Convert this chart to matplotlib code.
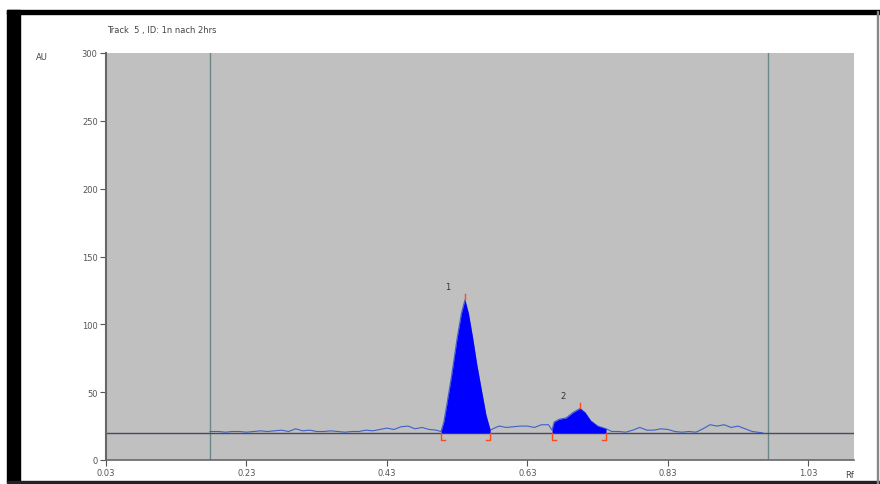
import matplotlib.pyplot as plt
from matplotlib.patches import Rectangle

# densitogram data (Rf, AU)
rf = [0.178, 0.19, 0.20, 0.21, 0.22, 0.23, 0.24, 0.25, 0.26, 0.27, 0.28, 0.29,
      0.30, 0.31, 0.32, 0.33, 0.34, 0.35, 0.36, 0.37, 0.38, 0.39, 0.40, 0.41,
      0.42, 0.43, 0.44, 0.45, 0.46, 0.47, 0.48, 0.49, 0.50,
      0.507, 0.511, 0.515, 0.522, 0.530, 0.536, 0.541, 0.546, 0.552, 0.558, 0.565, 0.571, 0.577,
      0.585, 0.59, 0.60, 0.61, 0.62, 0.63, 0.64, 0.65, 0.66,
      0.665, 0.668, 0.675, 0.685, 0.695, 0.705, 0.712, 0.720, 0.730, 0.742,
      0.75, 0.76, 0.77, 0.78, 0.79, 0.80, 0.81, 0.82, 0.83, 0.84, 0.85, 0.86,
      0.87, 0.88, 0.89, 0.90, 0.91, 0.92, 0.93, 0.94, 0.95, 0.965]
au = [21, 21, 20.5, 21, 21, 20.5, 21, 21.5, 21, 21.5, 22, 21,
      23, 21.5, 22, 21, 21, 21.5, 21, 20.5, 21, 21, 22, 21.5,
      22.5, 23.5, 22.5, 24.5, 25, 23, 24, 22.5, 22,
      21, 28, 40, 62, 90, 108, 118, 108, 90, 70, 50, 33, 22,
      24, 25, 24, 24.5, 25, 25, 24, 26, 26,
      22, 28, 30, 31, 35, 38, 35, 29, 25, 23,
      21, 21, 20.5, 22, 24, 22, 22, 23, 22.5, 21, 20.5, 21,
      20.5, 23, 26, 25, 26, 24, 25, 23, 21, 20]

baseline = 20
track_lines = [0.178, 0.973]
peak_ranges = [(0.507, 0.577), (0.665, 0.742)]
peak_tops = [(0.541, 118), (0.705, 38)]
peak_names = ['1', '2']

fig = plt.figure(figsize=(8.8, 4.85), dpi=100)
ax = fig.add_axes([106 / 880, 1 - 461 / 485, 748 / 880, 407 / 485])
ax.set_facecolor('#c0c0c0')

for x in track_lines:
    ax.axvline(x, color='#6a8888', lw=1.0, zorder=1)
ax.axhline(baseline, color='#4a4a5a', lw=1.0, zorder=2)

ax.plot(rf, au, color='#4060c8', lw=0.8, zorder=3)

for (a, b), (px, py), name in zip(peak_ranges, peak_tops, peak_names):
    xs = [x for x in rf if a <= x <= b]
    ys = [y for x, y in zip(rf, au) if a <= x <= b]
    ax.fill_between(xs, baseline, ys, color='#0000ff', lw=0, zorder=4)
    # start / end brackets
    ax.plot([a + 0.006, a, a], [15, 15, baseline], color='#ff4a20', lw=1.0, zorder=5)
    ax.plot([b - 0.006, b, b], [15, 15, baseline], color='#ff4a20', lw=1.0, zorder=5)
    ax.plot([px, px], [py, py + 4], color='#ff4a20', lw=1.0, zorder=5)
    ax.text(px - 0.025, py + 8, name, fontsize=6, color='#333333', ha='center')

ax.set_xlim(0.03, 1.095)
ax.set_ylim(0, 300)
ax.set_xticks([0.03, 0.23, 0.43, 0.63, 0.83, 1.03])
ax.set_xticklabels(['0.03', '0.23', '0.43', '0.63', '0.83', '1.03'])
ax.set_yticks([0, 50, 100, 150, 200, 250, 300])
ax.tick_params(labelsize=6, colors='#555555', length=4, width=0.8, pad=2)
for s in ['top', 'right']:
    ax.spines[s].set_visible(False)
ax.spines['left'].set_color('#666666')
ax.spines['left'].set_linewidth(1.5)
ax.spines['bottom'].set_color('#666666')
ax.spines['bottom'].set_linewidth(1.2)

fig.text(107 / 880, 1 - 30 / 485, 'Track  5 , ID: 1n nach 2hrs', fontsize=6, color='#444444', va='center')
fig.text(36 / 880, 1 - 58 / 485, 'AU', fontsize=6, color='#444444', va='center')
fig.text(845 / 880, 1 - 476 / 485, 'Rf', fontsize=6, color='#444444', va='center')

# black frame
fig.patches.append(Rectangle((7 / 880, 2 / 485), 13 / 880, 472 / 485, transform=fig.transFigure, color='black'))
fig.patches.append(Rectangle((7 / 880, 1 - 15 / 485), 873 / 880, 4 / 485, transform=fig.transFigure, color='black'))
fig.patches.append(Rectangle((7 / 880, 1 / 485), 873 / 880, 2 / 485, transform=fig.transFigure, color='#222222'))
fig.patches.append(Rectangle((877 / 880, 1 / 485), 1 / 880, 472 / 485, transform=fig.transFigure, color='#888888'))

plt.savefig('out.png', dpi=100)
